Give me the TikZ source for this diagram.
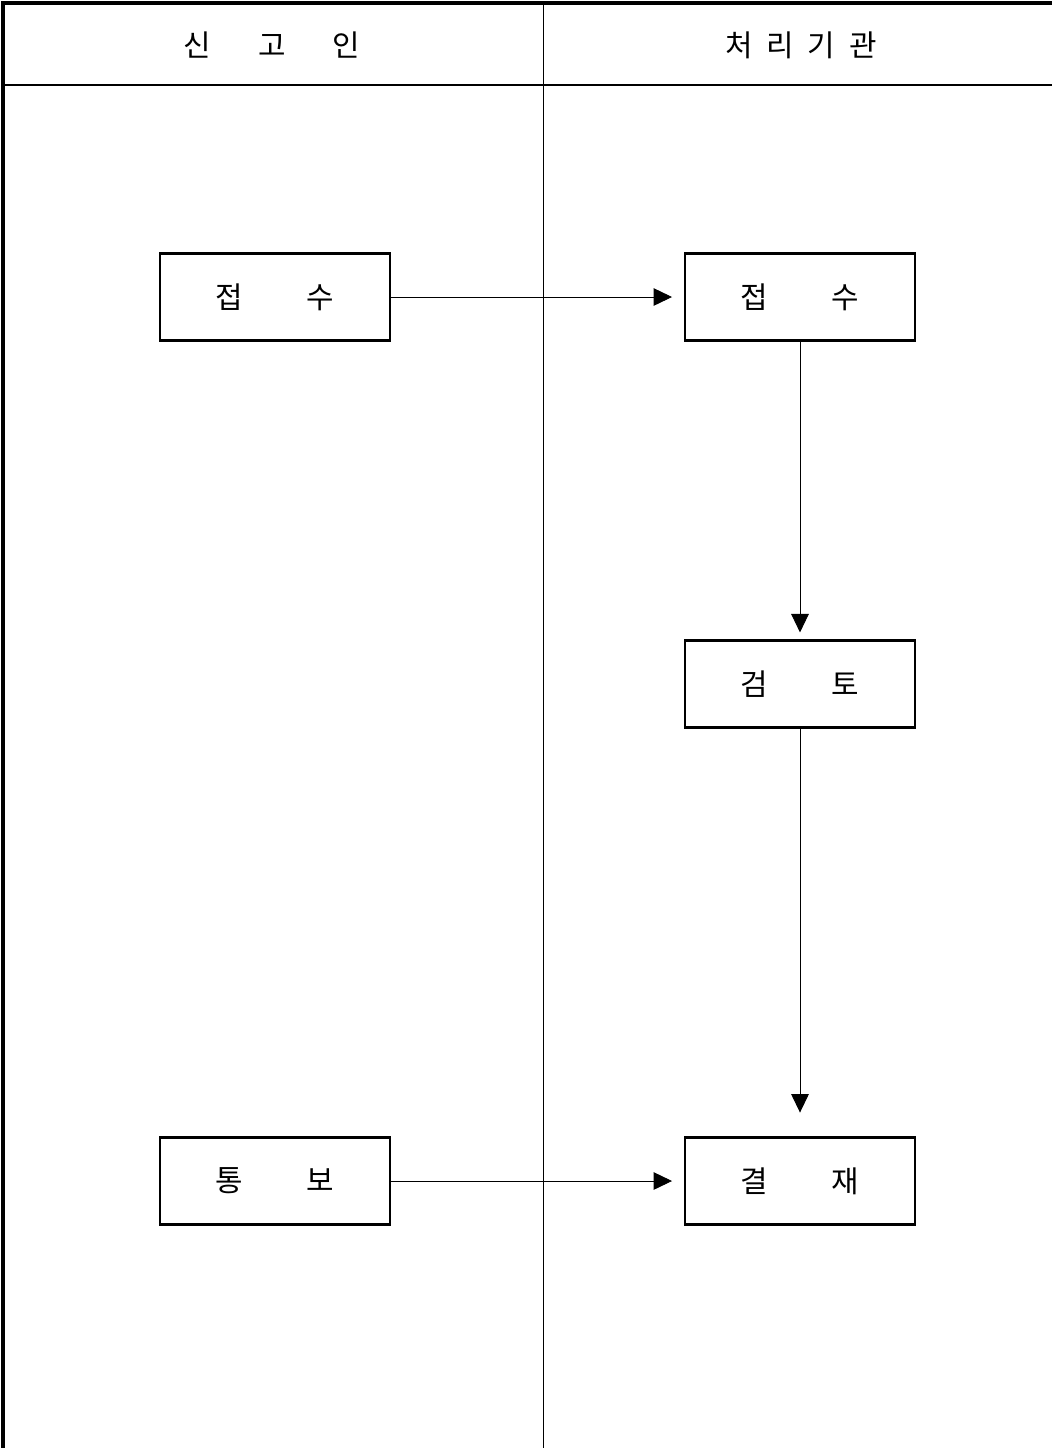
\documentclass[tikz,border=0pt]{standalone}
\usepackage{fontspec}
\setmainfont{Noto Sans CJK KR}
\usetikzlibrary{arrows.meta}

\begin{document}
\begin{tikzpicture}[x=0.02cm, y=-0.02cm,
    stage/.style={draw, line width=1.2pt, minimum width=4.6cm, minimum height=1.74cm,
        inner sep=0pt, font=\fontsize{17}{19}\selectfont},
    lane/.style={font=\fontsize{17}{19}\selectfont},
    flow/.style={-{Triangle[length=10.5pt,width=10pt]}, line width=0.5pt}]

    \useasboundingbox (0,0) rectangle (1052,1448);

    % Frame and lanes
    \draw[line width=2pt] (3,1448) -- (3,3) -- (1052,3);
    \draw[line width=1pt] (3,85) -- (1052,85);
    \draw[line width=0.4pt] (543,3) -- (543,1448);

    % Lane titles
    \node[lane] (reporter) at (272,45) {신\hspace{0.94cm}고\hspace{0.94cm}인};
    \node[lane] (agency) at (801,45) {처\hspace{0.28cm}리\hspace{0.28cm}기\hspace{0.28cm}관};

    % Draw steps
    \node[stage] (submit) at (275,297) {접\hspace{1.28cm}수};
    \node[stage] (receive) at (800,297) {접\hspace{1.28cm}수};
    \node[stage] (review) at (800,684) {검\hspace{1.28cm}토};
    \node[stage] (approve) at (800,1181) {결\hspace{1.28cm}재};
    \node[stage] (notify) at (275,1181) {통\hspace{1.28cm}보};

    % Connectors
    \draw[flow, shorten >=6.8pt] (submit.east) -- (receive.west);
    \draw[flow, shorten >=4pt] (receive) -- (review);
    \draw[flow, shorten >=13.6pt] (review) -- (approve);
    \draw[flow, shorten >=6.8pt] (notify.east) -- (approve.west);

\end{tikzpicture}
\end{document}
